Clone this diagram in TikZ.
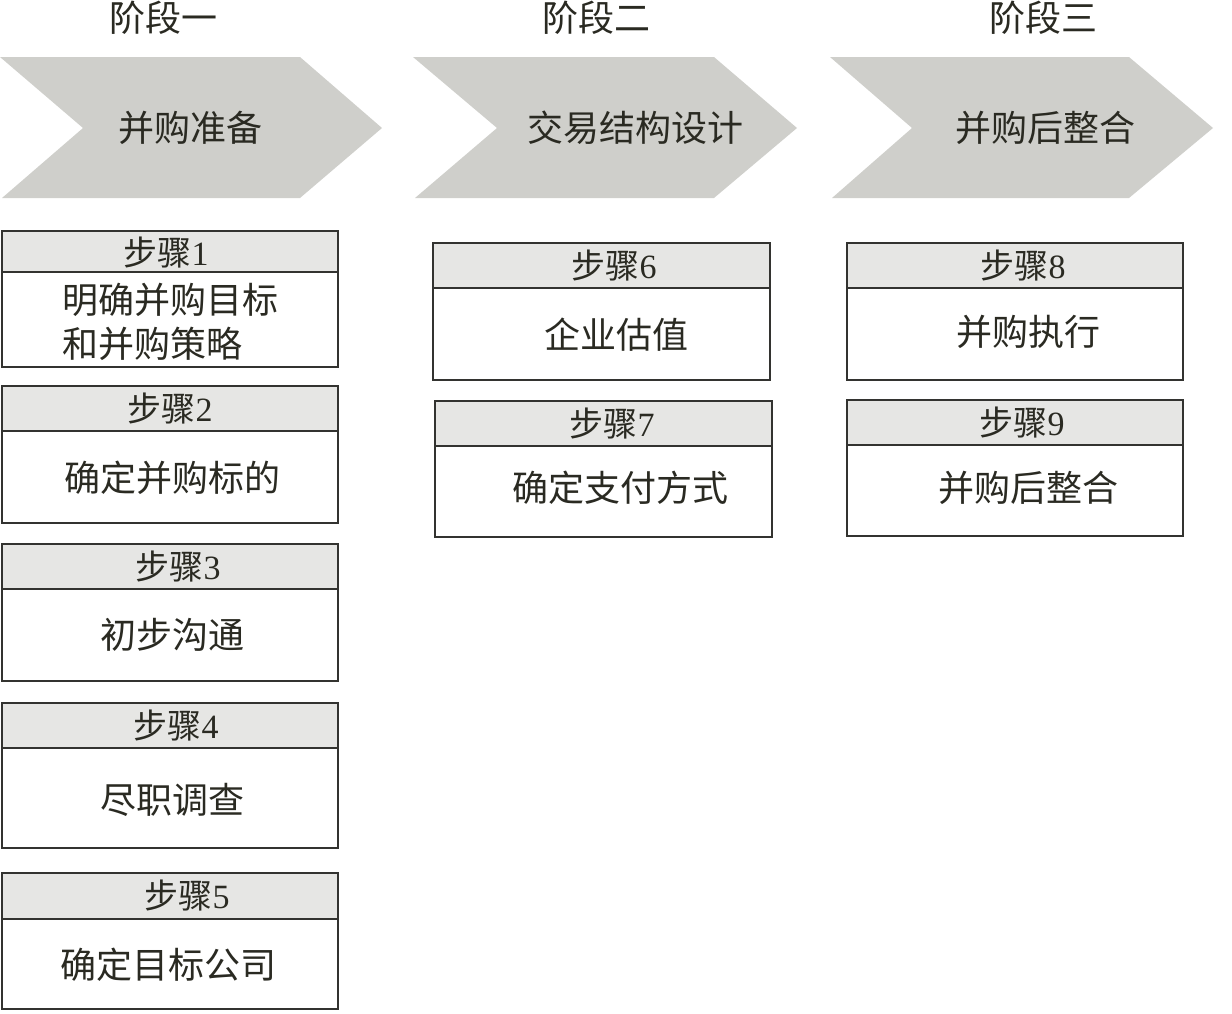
\documentclass[tikz,border=0pt]{standalone}
\usepackage{fontspec}
\setmainfont{Liberation Serif}
\newfontfamily\cjk{Noto Sans CJK SC}
\definecolor{chevgray}{HTML}{CFCFCB}
\definecolor{headgray}{HTML}{E6E6E4}
\definecolor{ink}{HTML}{2A2A22}
\definecolor{edge}{HTML}{333330}
\tikzset{
  chev/.style={fill=chevgray, draw=none},
  headbox/.style={fill=headgray, draw=edge, line width=1pt},
  bodybox/.style={fill=white, draw=edge, line width=1pt},
  txt/.style={text=ink, inner sep=0pt, font=\cjk\fontsize{18pt}{22pt}\selectfont},
  htxt/.style={text=ink, inner sep=0pt, font=\cjk\fontsize{17pt}{20pt}\selectfont},
}
\newcommand{\stp}[1]{步骤{\rmfamily #1}}
\begin{document}
\begin{tikzpicture}[x=0.5pt,y=-0.5pt]
\useasboundingbox (0,0) rectangle (1232,1013);
% stage titles
\node[txt] (t1) at (163,18) {阶段一};
\node[txt] (t2) at (596,18) {阶段二};
\node[txt] (t3) at (1043,18) {阶段三};
% chevrons
\fill[chev] (0,57) -- (300,57) -- (382,128) -- (300,198) -- (2,198) -- (83,128) -- cycle;
\fill[chev] (413,57) -- (714,57) -- (797,128) -- (714,198) -- (415,198) -- (497,128) -- cycle;
\fill[chev] (830,57) -- (1129,57) -- (1213,128) -- (1129,198) -- (832,198) -- (912,128) -- cycle;
\node[txt] (c1) at (190,128) {并购准备};
\node[txt] (c2) at (635,128) {交易结构设计};
\node[txt] (c3) at (1045,128) {并购后整合};
% column 1
\draw[headbox] (2,231) rectangle (338,272);
\draw[bodybox] (2,272) rectangle (338,367);
\node[htxt] (h1) at (166,253) {\stp{1}};
\node[txt, align=left] (b1) at (170,322) {明确并购目标\\和并购策略};
\draw[headbox] (2,386) rectangle (338,431);
\draw[bodybox] (2,431) rectangle (338,523);
\node[htxt] (h2) at (170,409) {\stp{2}};
\node[txt] (b2) at (172,478) {确定并购标的};
\draw[headbox] (2,544) rectangle (338,589);
\draw[bodybox] (2,589) rectangle (338,681);
\node[htxt] (h3) at (178,567) {\stp{3}};
\node[txt] (b3) at (172,635) {初步沟通};
\draw[headbox] (2,703) rectangle (338,748);
\draw[bodybox] (2,748) rectangle (338,848);
\node[htxt] (h4) at (176,726) {\stp{4}};
\node[txt] (b4) at (172,800) {尽职调查};
\draw[headbox] (2,873) rectangle (338,919);
\draw[bodybox] (2,919) rectangle (338,1009);
\node[htxt] (h5) at (187,896) {\stp{5}};
\node[txt] (b5) at (168,965) {确定目标公司};
% column 2
\draw[headbox] (433,243) rectangle (770,288);
\draw[bodybox] (433,288) rectangle (770,380);
\node[htxt] (h6) at (614,266) {\stp{6}};
\node[txt] (b6) at (616,335) {企业估值};
\draw[headbox] (435,401) rectangle (772,446);
\draw[bodybox] (435,446) rectangle (772,537);
\node[htxt] (h7) at (612,424) {\stp{7}};
\node[txt] (b7) at (620,488) {确定支付方式};
% column 3
\draw[headbox] (847,243) rectangle (1183,288);
\draw[bodybox] (847,288) rectangle (1183,380);
\node[htxt] (h8) at (1023,266) {\stp{8}};
\node[txt] (b8) at (1028,332) {并购执行};
\draw[headbox] (847,400) rectangle (1183,445);
\draw[bodybox] (847,445) rectangle (1183,536);
\node[htxt] (h9) at (1022,423) {\stp{9}};
\node[txt] (b9) at (1028,488) {并购后整合};
\end{tikzpicture}
\end{document}
